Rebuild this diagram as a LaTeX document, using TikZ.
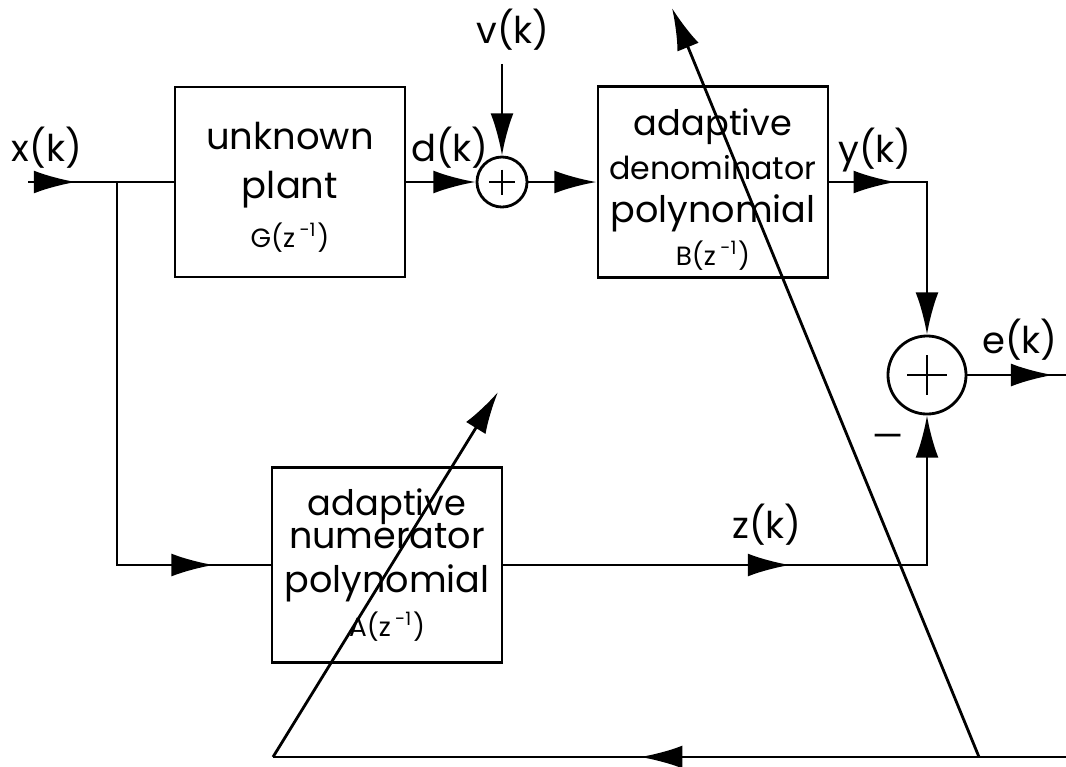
\documentclass[tikz,border=0pt]{standalone}
\usepackage{fontspec}
\setmainfont{Poppins}
\usetikzlibrary{arrows.meta, positioning, calc, decorations.markings}

\tikzset{
  sigtip/.tip={Latex[length=12pt,width=6.5pt]},
  block/.style={draw, line width=0.8pt, minimum width=2.3cm, align=center, inner sep=0pt},
  sumnode/.style={draw, circle, line width=0.8pt, inner sep=0pt, minimum size=#1,
    path picture={
      \draw[line width=0.8pt] ($(path picture bounding box.west)!0.25!(path picture bounding box.east)$)
        -- ($(path picture bounding box.west)!0.75!(path picture bounding box.east)$);
      \draw[line width=0.8pt] ($(path picture bounding box.north)!0.25!(path picture bounding box.south)$)
        -- ($(path picture bounding box.north)!0.75!(path picture bounding box.south)$);
    }},
  midarrow/.style={postaction={decorate},
    decoration={markings, mark=at position #1 with {\arrow{sigtip}}}},
  lbl/.style={font=\fontsize{10.5}{11}\selectfont},
}

\begin{document}
\begin{tikzpicture}[x=0.01cm, y=-0.01cm, line width=0.8pt, >=sigtip]
\useasboundingbox (0,0) rectangle (1066,766);

% blocks
\node[block, minimum height=1.9cm, text height=1.6cm, text depth=0.3cm, font=\fontsize{10.5}{13.8}\selectfont] (plant) at (290,182)
  {unknown\\ plant\\ {\fontsize{7.5}{10}\selectfont G(z\,\textsuperscript{-1})}};
\node[block, minimum height=1.91cm, text height=1.79cm, text depth=0.12cm, font=\fontsize{10}{12.3}\selectfont] (den) at (713,182)
  {adaptive\\ {\fontsize{9}{10}\selectfont denominator}\\ {\fontsize{10.4}{12}\selectfont polynomial}\\
   {\fontsize{7.5}{10}\selectfont B(z\,\textsuperscript{-1})}};
\node[block, minimum height=1.95cm, font=\fontsize{10.4}{12.5}\selectfont] (num) at (387,565)
  {{\fontsize{10}{10}\selectfont adaptive}\\[-3pt] numerator\\ polynomial\\ {\fontsize{7.5}{10}\selectfont A(z\,\textsuperscript{-1})}};

% summing points
\node[sumnode=0.5cm] (s1) at (502,182) {};
\node[sumnode=0.78cm] (s2) at (927,375) {};

% labels
\node[lbl] (xk) at (47,148) {x(k)};
\node[lbl] (dk) at (450,148) {d(k)};
\node[lbl] (vk) at (513,30) {v(k)};
\node[lbl] (yk) at (875,150) {y(k)};
\node[lbl] (ek) at (1020,340) {e(k)};
\node[lbl] (zk) at (767,525) {z(k)};
\node[font=\fontsize{10}{10}\selectfont] (minus) at (888,441) {—};

% signal paths
\coordinate (xin) at (28,182);
\coordinate (split) at (117,182);
\coordinate (eout) at (1066,375);
\draw[midarrow=0.33] (xin) -- (plant.west);
\draw[midarrow=0.894] (split) |- (num.west);
\draw[->] (plant.east) -- (s1.west);
\draw[->] (s1.north |- vk.south) -- (s1.north);
\draw[->] (s1.east) -- (den.west);
\draw[midarrow=0.265, ->] (den.east) -| (s2.north);
\draw[midarrow=0.5, ->] (num.east) -| (s2.south);
\draw[midarrow=0.87] (s2.east) -- (eout);

% adaptation
\coordinate (fbR) at (1066,757);
\coordinate (fbL) at (273,757);
\coordinate (fbM) at (979,757);
\coordinate (tipA) at (498,392);
\coordinate (tipB) at (672,8);
\draw[midarrow=0.537] (fbR) -- (fbL);
\draw[->] (fbL) -- (tipA);
\draw[->] (fbM) -- (tipB);
\end{tikzpicture}
\end{document}
